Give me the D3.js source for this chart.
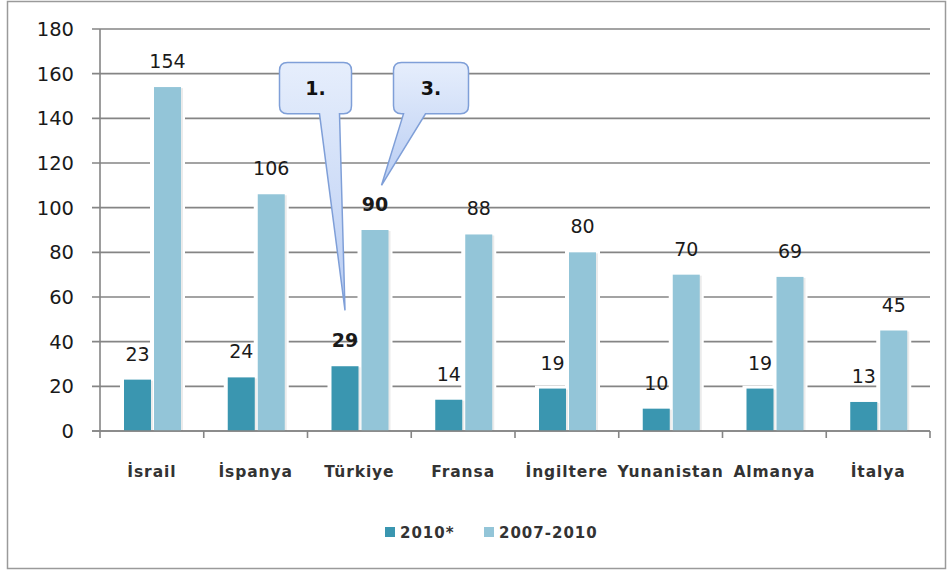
<!DOCTYPE html>
<html>
<head>
<meta charset="UTF-8">
<title>bar chart</title>
<script src="https://cdn.jsdelivr.net/npm/d3@7"></script>
<style>
body { margin:0; background:#fff; font-family:"DejaVu Sans",Verdana,sans-serif; }
.grid line { stroke:#858585; stroke-width:1.6; }
</style>
</head>
<body>
<svg id="chart" width="952" height="572"></svg>
<script>
// countries and the two series
var countries = ['İsrail','İspanya','Türkiye','Fransa','İngiltere','Yunanistan','Almanya','İtalya'];
var series = ['2010*','2007-2010'];
var v2010 = [23,24,29,14,19,10,19,13];
var v0710 = [154,106,90,88,80,70,69,45];
var yTicks = [0,20,40,60,80,100,120,140,160,180];
var cols = ['#3a96b0','#93c5d8'];
var bold = 'Türkiye';

var svg = d3.select('#chart');
var L = 100, R = 930, T = 29, B = 431;

svg.append('rect').attr('x',7.5).attr('y',1.5).attr('width',938).attr('height',567)
  .attr('fill','#fff').attr('stroke','#9a9a9a').attr('stroke-width',1.5);

var x0 = d3.scaleBand().domain(countries).range([L,R]);
var x1 = d3.scaleBand().domain(series).range([24,81]).paddingInner(0.1);
var y = d3.scaleLinear().domain([0,180]).range([B,T]);

// gridlines + y labels
var g = svg.append('g').attr('class','grid');
g.selectAll('line').data(yTicks).enter().append('line')
  .attr('x1',L-8).attr('x2',R).attr('y1',y).attr('y2',y);
svg.selectAll('.ylab').data(yTicks).enter().append('text')
  .attr('x',74).attr('y',function(d){return y(d)+7;}).attr('text-anchor','end')
  .attr('font-size',19.5).attr('fill','#1a1a1a').text(function(d){return d;});
svg.append('line').attr('x1',L).attr('x2',L).attr('y1',T).attr('y2',B)
  .attr('stroke','#858585').attr('stroke-width',1.6);
// category ticks below axis
var edges = countries.map(function(c){return x0(c);}).concat([R]);
svg.selectAll('.xt').data(edges).enter().append('line')
  .attr('x1',function(d){return d;}).attr('x2',function(d){return d;})
  .attr('y1',B).attr('y2',B+7).attr('stroke','#858585').attr('stroke-width',1.6);

var rows = [];
countries.forEach(function(c,i){
  rows.push({c:c, s:series[0], v:v2010[i], k:0});
  rows.push({c:c, s:series[1], v:v0710[i], k:1});
});
var bx = function(d){return x0(d.c)+x1(d.s);};
var bw = x1.bandwidth();

// white halo behind each bar, breaks the gridlines like the original
svg.selectAll('.halo').data(rows).enter().append('rect')
  .attr('x',function(d){return bx(d)-4;}).attr('width',bw+8)
  .attr('y',function(d){return y(d.v)-3;})
  .attr('height',function(d){return B-y(d.v)+2;})
  .attr('fill','#fff');
svg.selectAll('.shadow').data(rows).enter().append('rect')
  .attr('x',function(d){return bx(d)+2;}).attr('y',function(d){return y(d.v)+1;})
  .attr('width',bw).attr('height',function(d){return B-y(d.v)-1;})
  .attr('fill','#000').attr('opacity',0.08);
svg.selectAll('.bar').data(rows).enter().append('rect')
  .attr('x',bx).attr('y',function(d){return y(d.v);})
  .attr('width',bw).attr('height',function(d){return B-y(d.v);})
  .attr('fill',function(d){return cols[d.k];});
svg.append('line').attr('x1',L-8).attr('x2',R).attr('y1',B).attr('y2',B)
  .attr('stroke','#858585').attr('stroke-width',1.6);

// value labels
svg.selectAll('.val').data(rows).enter().append('text')
  .attr('x',function(d){return bx(d)+bw/2;})
  .attr('y',function(d){return y(d.v)-19;})
  .attr('text-anchor','middle').attr('font-size',19).attr('fill','#1a1a1a')
  .attr('font-weight',function(d){return d.c==bold?'bold':'normal';})
  .text(function(d){return d.v;});

// category labels
svg.selectAll('.cat').data(countries).enter().append('text')
  .attr('x',function(c){return x0(c)+x0.bandwidth()/2;}).attr('y',477)
  .attr('text-anchor','middle').attr('font-size',15.5).attr('letter-spacing',0.9)
  .attr('fill','#333').attr('font-weight',600).text(function(c){return c;});

// legend
var lg = svg.append('g').attr('transform','translate(385,527)');
var lx = [0,99];
series.forEach(function(s,i){
  lg.append('rect').attr('x',lx[i]).attr('y',0).attr('width',10).attr('height',10).attr('fill',cols[i]);
  lg.append('text').attr('x',lx[i]+15).attr('y',11).attr('font-size',15).attr('font-weight','bold')
    .attr('letter-spacing',1).attr('fill','#333').text(s);
});

// callouts
var defs = svg.append('defs');
var gr = defs.append('linearGradient').attr('id','cg').attr('x1',0).attr('y1',0).attr('x2',0).attr('y2',1);
gr.append('stop').attr('offset','0%').attr('stop-color','#e6eefc');
gr.append('stop').attr('offset','100%').attr('stop-color','#b9cdf3');
var tb = x0(bold);
var callouts = [
  {t:'1.', bx:tb-28, w:72, tip:[tb+x1(series[0])+bw/2, y(54)], base:[tb+12, tb+32]},
  {t:'3.', bx:tb+86, w:75, tip:[tb+x1(series[1])+bw-7, y(110)], base:[tb+96, tb+118]}
];
callouts.forEach(function(c){
  var top = y(165), bot = y(142), r = 8, x = c.bx, w = c.w;
  var p = 'M'+(x+r)+','+top+'H'+(x+w-r)+'Q'+(x+w)+','+top+' '+(x+w)+','+(top+r)
    +'V'+(bot-r)+'Q'+(x+w)+','+bot+' '+(x+w-r)+','+bot
    +'H'+c.base[1]+'L'+c.tip[0]+','+c.tip[1]+'L'+c.base[0]+','+bot
    +'H'+(x+r)+'Q'+x+','+bot+' '+x+','+(bot-r)+'V'+(top+r)+'Q'+x+','+top+' '+(x+r)+','+top+'Z';
  svg.append('path').attr('d',p).attr('fill','url(#cg)').attr('stroke','#7f9fd8').attr('stroke-width',1.5);
  svg.append('text').attr('x',x+w/2).attr('y',(top+bot)/2+7).attr('text-anchor','middle')
    .attr('font-size',19).attr('font-weight','bold').attr('fill','#111').text(c.t);
});
</script>
</body>
</html>
